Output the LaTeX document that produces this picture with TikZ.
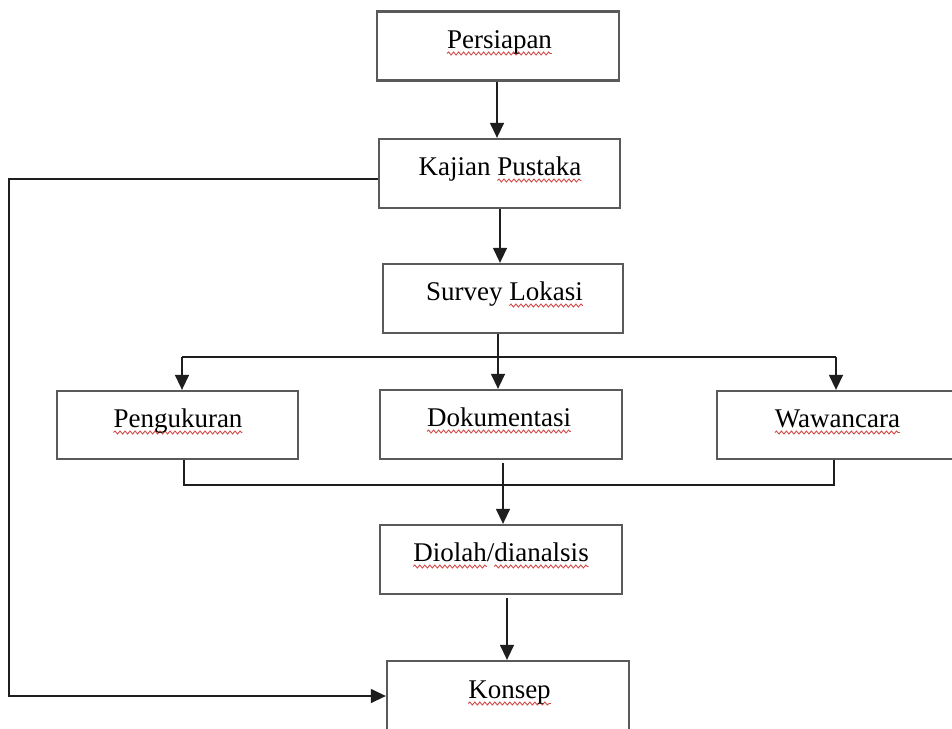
\documentclass[tikz,border=0pt]{standalone}
\usepackage{fontspec}
\setmainfont{Liberation Serif}
\usetikzlibrary{arrows.meta,decorations.pathmorphing}
\definecolor{boxgray}{HTML}{5A5A5A}
\definecolor{linecol}{HTML}{1E1E1E}
\definecolor{wavered}{HTML}{D24A48}
\newsavebox\wvbox
\newlength\wvlen
\tikzset{
  wavyline/.style={draw=wavered, line width=0.9pt, decorate,
    decoration={snake, amplitude=1.5pt, segment length=5pt}},
  box/.style={draw=boxgray, line width=2.3pt, minimum height=69pt, inner sep=0pt},
  lbl/.style={anchor=base, inner sep=0pt, text=black, font=\fontsize{27}{32}\selectfont},
  conn/.style={draw=linecol, line width=1.4pt},
  arr/.style={conn, -{Triangle[length=15pt, width=14pt]}},
}
\newcommand\wv[1]{\sbox\wvbox{#1}\setlength\wvlen{\wd\wvbox}%
  \rlap{\tikz[overlay,baseline=0pt]\draw[wavyline] (0pt,-5.5pt) -- (\wvlen,-5.5pt);}\usebox\wvbox}
\begin{document}
\begin{tikzpicture}[x=1pt, y=-1pt]
\path[use as bounding box, clip] (0,0) rectangle (952,728);
\fill[white] (0,0) rectangle (952,728);

% boxes
\node[box, minimum width=242pt] (persiapan)   at (498,46)    {};
\node[box, minimum width=241pt] (kajian)      at (499.5,173.5) {};
\node[box, minimum width=240pt] (survey)      at (503,298.5) {};
\node[box, minimum width=241pt, minimum height=68pt] (pengukuran) at (177.5,425) {};
\node[box, minimum width=242pt] (dokumentasi) at (501,424.5)  {};
\node[box, minimum width=241pt, minimum height=68pt] (wawancara)  at (837.5,425) {};
\node[box, minimum width=242pt] (diolah)      at (501,559.5)  {};
\node[box, minimum width=242pt, minimum height=70pt] (konsep) at (508,696) {};

% labels
\node[lbl] (tpersiapan)   at (499.5,48)  {\wv{Persiapan}};
\node[lbl] (tkajian)      at (500,175)   {Kajian \wv{Pustaka}};
\node[lbl] (tsurvey)      at (504.5,300) {Survey \wv{Lokasi}};
\node[lbl] (tpengukuran)  at (178,427)   {\wv{Pengukuran}};
\node[lbl] (tdokumentasi) at (499,426)   {\wv{Dokumentasi}};
\node[lbl] (twawancara)   at (837.5,427) {\wv{Wawancara}};
\node[lbl] (tdiolah)      at (501,561)   {\wv{Diolah}/\wv{dianalsis}};
\node[lbl] (tkonsep)      at (509.5,698) {\wv{Konsep}};

% helper coordinates
\coordinate (a1) at (497,0);
\coordinate (a2) at (500,0);
\coordinate (hb) at (498,357);
\coordinate (hl) at (182,357);
\coordinate (hr) at (836,357);
\coordinate (bl) at (184,485);
\coordinate (br) at (834,485);
\coordinate (bm) at (503,463);
\coordinate (dk) at (507,598);
\coordinate (lt) at (9,179);
\coordinate (lb) at (9,696);

% connectors
\draw[arr] (persiapan.south -| a1) -- (kajian.north -| a1);
\draw[arr] (kajian.south -| a2) -- (survey.north -| a2);
\draw[conn] (survey.south -| hb) -- (hb);
\draw[conn] (hl) -- (hr);
\draw[arr] (hl) -- (hl |- pengukuran.north);
\draw[arr] (hb) -- (hb |- dokumentasi.north);
\draw[arr] (hr) -- (hr |- wawancara.north);
\draw[conn] (pengukuran.south -| bl) -- (bl) -- (br) -- (wawancara.south -| br);
\draw[arr] (bm) -- (bm |- diolah.north);
\draw[arr] (dk) -- (dk |- konsep.north);
\draw[arr] (kajian.west |- lt) -- (lt) -- (lb) -- (konsep.west);
\end{tikzpicture}
\end{document}
